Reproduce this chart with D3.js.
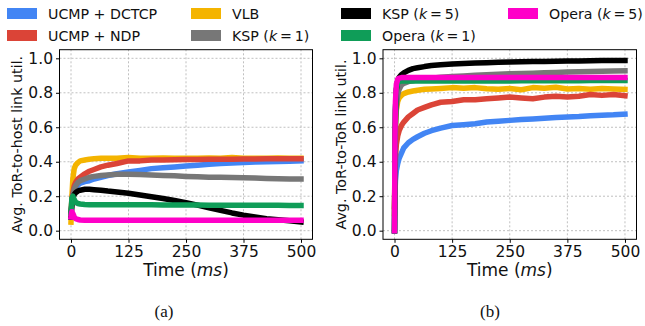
<!DOCTYPE html>
<meta charset="utf-8" />
<style>
  body { margin: 0; background: #fff; }
  text { font-family: "DejaVu Sans", sans-serif; fill: #111; }
  .grid line { stroke: #b0b0b0; stroke-width: 0.8px; stroke-dasharray: 2,2; }
  .line { fill: none; stroke-width: 5.5px; stroke-linejoin: round; stroke-linecap: square; }
</style>
<body>
  <div id="fig"></div>
  <script src="https://d3js.org/d3.v7.min.js"></script>
  <script>
    // sample times (ms)
    var times = [0, 1, 2, 4, 7, 10, 15, 20, 30, 40, 50, 65, 80, 100, 125, 150, 175, 200, 225, 250, 275, 300, 325, 350, 375, 400, 425, 450, 475, 500];

    var xTicks = [0, 125, 250, 375, 500];
    var yTicks = [0.0, 0.2, 0.4, 0.6, 0.8, 1.0];

    // (a) ToR-to-host
    var hostDctcp = [0.08, 0.12, 0.16, 0.2, 0.23, 0.25, 0.265, 0.275, 0.285, 0.29, 0.3, 0.31, 0.32, 0.33, 0.34, 0.35, 0.36, 0.365, 0.37, 0.375, 0.38, 0.385, 0.39, 0.392, 0.395, 0.398, 0.4, 0.402, 0.403, 0.405];
    var hostNdp = [0.1, 0.14, 0.18, 0.22, 0.26, 0.28, 0.3, 0.31, 0.33, 0.345, 0.355, 0.37, 0.38, 0.39, 0.405, 0.405, 0.41, 0.41, 0.412, 0.413, 0.413, 0.414, 0.414, 0.415, 0.416, 0.416, 0.417, 0.418, 0.418, 0.418];
    var hostVlb = [0.05, 0.12, 0.2, 0.3, 0.36, 0.38, 0.395, 0.405, 0.41, 0.415, 0.418, 0.42, 0.42, 0.42, 0.425, 0.42, 0.42, 0.421, 0.42, 0.42, 0.42, 0.421, 0.42, 0.424, 0.42, 0.42, 0.42, 0.421, 0.42, 0.42];
    var hostKsp1 = [0.09, 0.12, 0.15, 0.2, 0.24, 0.26, 0.28, 0.29, 0.3, 0.31, 0.315, 0.32, 0.323, 0.327, 0.328, 0.326, 0.323, 0.32, 0.318, 0.315, 0.313, 0.31, 0.31, 0.308, 0.307, 0.305, 0.303, 0.302, 0.3, 0.3];
    var hostKsp5 = [0.08, 0.12, 0.16, 0.19, 0.21, 0.22, 0.23, 0.235, 0.24, 0.24, 0.238, 0.235, 0.23, 0.225, 0.217, 0.207, 0.197, 0.187, 0.175, 0.163, 0.148, 0.133, 0.118, 0.103, 0.09, 0.08, 0.07, 0.063, 0.057, 0.05];
    var hostOpera1 = [0.1, 0.15, 0.19, 0.2, 0.18, 0.165, 0.158, 0.155, 0.152, 0.151, 0.15, 0.15, 0.15, 0.15, 0.15, 0.15, 0.15, 0.149, 0.149, 0.149, 0.149, 0.148, 0.148, 0.148, 0.148, 0.147, 0.147, 0.147, 0.146, 0.146];
    var hostOpera5 = [0.08, 0.1, 0.11, 0.1, 0.08, 0.07, 0.065, 0.062, 0.06, 0.06, 0.06, 0.06, 0.06, 0.06, 0.06, 0.06, 0.06, 0.06, 0.06, 0.06, 0.06, 0.06, 0.06, 0.06, 0.06, 0.06, 0.06, 0.06, 0.06, 0.06];

    // (b) ToR-to-ToR
    var torDctcp = [0, 0.21, 0.29, 0.35, 0.39, 0.42, 0.45, 0.48, 0.51, 0.53, 0.545, 0.565, 0.58, 0.595, 0.61, 0.615, 0.62, 0.63, 0.635, 0.64, 0.645, 0.648, 0.652, 0.657, 0.66, 0.662, 0.667, 0.67, 0.672, 0.676];
    var torNdp = [0.14, 0.3, 0.42, 0.5, 0.55, 0.58, 0.61, 0.63, 0.66, 0.68, 0.7, 0.715, 0.73, 0.745, 0.75, 0.76, 0.76, 0.765, 0.77, 0.775, 0.77, 0.765, 0.775, 0.78, 0.775, 0.78, 0.79, 0.785, 0.79, 0.783];
    var torVlb = [0.1, 0.45, 0.6, 0.7, 0.75, 0.77, 0.785, 0.795, 0.805, 0.81, 0.815, 0.82, 0.822, 0.825, 0.83, 0.826, 0.83, 0.823, 0.82, 0.825, 0.818, 0.83, 0.826, 0.832, 0.822, 0.825, 0.82, 0.825, 0.822, 0.82];
    var torKsp1 = [0, 0.4, 0.6, 0.72, 0.79, 0.82, 0.845, 0.855, 0.865, 0.87, 0.875, 0.88, 0.885, 0.89, 0.895, 0.898, 0.902, 0.905, 0.908, 0.91, 0.912, 0.914, 0.916, 0.918, 0.92, 0.922, 0.924, 0.925, 0.927, 0.928];
    var torKsp5 = [0, 0.5, 0.7, 0.82, 0.87, 0.89, 0.905, 0.915, 0.93, 0.94, 0.945, 0.952, 0.958, 0.963, 0.967, 0.97, 0.973, 0.975, 0.977, 0.978, 0.98, 0.981, 0.982, 0.983, 0.984, 0.985, 0.986, 0.987, 0.988, 0.988];
    var torOpera1 = [0, 0.45, 0.7, 0.82, 0.86, 0.866, 0.868, 0.868, 0.868, 0.868, 0.868, 0.868, 0.868, 0.868, 0.868, 0.869, 0.869, 0.869, 0.869, 0.869, 0.87, 0.87, 0.87, 0.87, 0.87, 0.87, 0.871, 0.871, 0.872, 0.872];
    var torOpera5 = [0, 0.55, 0.75, 0.85, 0.88, 0.885, 0.888, 0.888, 0.888, 0.888, 0.888, 0.888, 0.888, 0.888, 0.888, 0.888, 0.888, 0.888, 0.888, 0.888, 0.888, 0.888, 0.888, 0.888, 0.888, 0.888, 0.888, 0.888, 0.888, 0.888];

    var colors = {
      dctcp: "#4285f4", ndp: "#db4437", vlb: "#f4b400",
      ksp1: "#777777", ksp5: "#000000", opera1: "#0f9d58", opera5: "#ff00c8"
    };

    var svg = d3.select("#fig").append("svg")
      .attr("width", 645)
      .attr("height", 326);

    function drawPanel(left, right, ylabel, series, caption, captionX) {
      var x = d3.scaleLinear().domain([-25, 525]).range([left, right]);
      var y = d3.scaleLinear().domain([-0.05, 1.05]).range([239.3, 49.7]);
      var g = svg.append("g");

      // grid
      var grid = g.append("g").attr("class", "grid");
      grid.selectAll(".gx").data(xTicks).enter().append("line")
        .attr("x1", function (d) { return x(d); }).attr("x2", function (d) { return x(d); })
        .attr("y1", y.range()[0]).attr("y2", y.range()[1]);
      grid.selectAll(".gy").data(yTicks).enter().append("line")
        .attr("x1", left).attr("x2", right)
        .attr("y1", function (d) { return y(d); }).attr("y2", function (d) { return y(d); });

      // lines
      var line = d3.line()
        .x(function (d) { return x(d[0]); })
        .y(function (d) { return y(d[1]); });
      series.forEach(function (s) {
        var pts = times.map(function (t, i) { return [t, s.values[i]]; });
        g.append("path")
          .datum(pts)
          .attr("class", "line")
          .style("stroke", s.color)
          .attr("d", line);
        // early sample markers
        g.selectAll(null).data(pts.slice(0, 3)).enter().append("rect")
          .attr("x", function (d) { return x(d[0]) - 2; })
          .attr("y", function (d) { return y(d[1]) - 2; })
          .attr("width", 4).attr("height", 4)
          .style("fill", s.color);
      });

      // axes
      var xAxis = g.append("g")
        .attr("transform", "translate(0," + y.range()[0] + ")")
        .call(d3.axisBottom(x).tickValues(xTicks).tickSize(3.5).tickPadding(3));
      var yAxis = g.append("g")
        .attr("transform", "translate(" + left + ",0)")
        .call(d3.axisLeft(y).tickValues(yTicks).tickFormat(d3.format(".1f")).tickSize(3.5).tickPadding(3));
      [xAxis, yAxis].forEach(function (a) {
        a.select(".domain").remove();
        a.selectAll("text").style("font-size", "15.5px").attr("fill", "#111")
          .style("font-family", "'DejaVu Sans', sans-serif");
        a.selectAll("line").attr("stroke", "#000");
      });

      // frame
      g.append("rect")
        .attr("x", left).attr("y", y.range()[1])
        .attr("width", right - left).attr("height", y.range()[0] - y.range()[1])
        .attr("fill", "none").attr("stroke", "#000").attr("stroke-width", 1);

      // axis labels
      var xl = g.append("text")
        .attr("x", (left + right) / 2).attr("y", 276)
        .attr("text-anchor", "middle")
        .style("font-size", "17px");
      xl.append("tspan").text("Time (");
      xl.append("tspan").style("font-style", "italic").text("ms");
      xl.append("tspan").text(")");

      g.append("text")
        .attr("transform", "translate(" + (left - 37.5) + "," + (y.range()[0] + y.range()[1]) / 2 + ") rotate(-90)")
        .attr("text-anchor", "middle")
        .style("font-size", "14.3px")
        .text(ylabel);

      g.append("text")
        .attr("x", captionX).attr("y", 317)
        .attr("text-anchor", "middle")
        .style("font-family", "'Liberation Serif', serif")
        .style("font-size", "17px")
        .text(caption);
    }

    // legend items
    function legendItem(px, py, color, label, k) {
      svg.append("rect")
        .attr("x", px).attr("y", py)
        .attr("width", 30).attr("height", 11)
        .style("fill", color);
      var t = svg.append("text")
        .attr("x", px + 41).attr("y", py + 11)
        .style("font-size", "14.2px");
      if (k == null) {
        t.text(label);
      } else {
        t.append("tspan").text(label + " (");
        t.append("tspan").style("font-style", "italic").text("k");
        t.append("tspan").text("\u2009=\u2009" + k + ")");
      }
    }

    drawPanel(59.5, 312.5, "Avg. ToR-to-host link util.", [
      { values: hostVlb, color: colors.vlb },
      { values: hostDctcp, color: colors.dctcp },
      { values: hostNdp, color: colors.ndp },
      { values: hostKsp1, color: colors.ksp1 },
      { values: hostKsp5, color: colors.ksp5 },
      { values: hostOpera1, color: colors.opera1 },
      { values: hostOpera5, color: colors.opera5 }
    ], "(a)", 164);

    drawPanel(383, 636.5, "Avg. ToR-to-ToR link util.", [
      { values: torVlb, color: colors.vlb },
      { values: torDctcp, color: colors.dctcp },
      { values: torNdp, color: colors.ndp },
      { values: torKsp1, color: colors.ksp1 },
      { values: torKsp5, color: colors.ksp5 },
      { values: torOpera1, color: colors.opera1 },
      { values: torOpera5, color: colors.opera5 }
    ], "(b)", 490);

    legendItem(7, 8, colors.dctcp, "UCMP + DCTCP");
    legendItem(7, 30, colors.ndp, "UCMP + NDP");
    legendItem(191, 8, colors.vlb, "VLB");
    legendItem(191, 30, colors.ksp1, "KSP", 1);
    legendItem(341, 8, colors.ksp5, "KSP", 5);
    legendItem(341, 30, colors.opera1, "Opera", 1);
    legendItem(508, 8, colors.opera5, "Opera", 5);
  </script>
</body>
